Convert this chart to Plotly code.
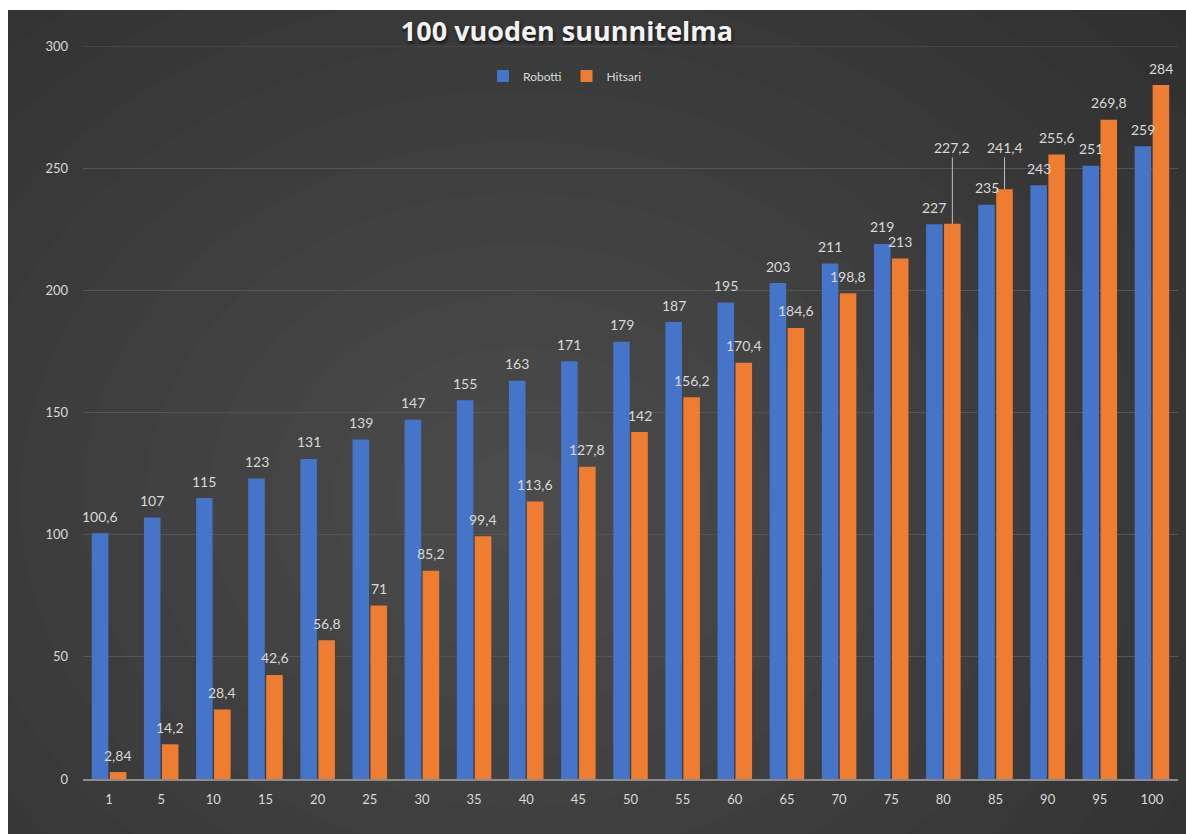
import plotly.graph_objects as go

categories = ["1", "5", "10", "15", "20", "25", "30", "35", "40", "45", "50",
              "55", "60", "65", "70", "75", "80", "85", "90", "95", "100"]
robotti = [100.6, 107, 115, 123, 131, 139, 147, 155, 163, 171, 179,
           187, 195, 203, 211, 219, 227, 235, 243, 251, 259]
hitsari = [2.84, 14.2, 28.4, 42.6, 56.8, 71, 85.2, 99.4, 113.6, 127.8, 142,
           156.2, 170.4, 184.6, 198.8, 213, 227.2, 241.4, 255.6, 269.8, 284]
# labels lifted with a leader line (category -> label height in data units)
lifted = {"80": 258.5, "85": 258.5}

W, H = 1186, 834
L, R, T, B = 83, 8, 46, 55
PW, PH = W - L - R, H - T - B

def px2x(p):
    return (p - L) / PW

def py2y(p):
    return (H - B - p) / PH

def fmt(v):
    s = ("%g" % v).replace(".", ",")
    return s

FONT = "Lato, 'Open Sans', sans-serif"
LBL = "#d9d9d9"
LSIZE = 14

fig = go.Figure()
fig.add_bar(name="Robotti", x=categories, y=robotti,
            marker=dict(color="#4674C8", line=dict(width=0)))
fig.add_bar(name="Hitsari", x=categories, y=hitsari,
            marker=dict(color="#EE7D32", line=dict(width=0)))

# background with radial-like gradient
shapes = [dict(type="rect", xref="paper", yref="paper", layer="below",
               x0=px2x(8), x1=px2x(W + 2), y0=py2y(H + 2), y1=py2y(10),
               fillcolor="#2b2b2b", line=dict(width=0))]
cx, cy = 520, 500
n = 16
for i in range(n):
    f = 1 - i / n
    rx, ry = 1000 * f, 820 * f
    shapes.append(dict(type="circle", xref="paper", yref="paper", layer="below",
                       x0=px2x(cx - rx), x1=px2x(cx + rx),
                       y0=py2y(cy + ry), y1=py2y(cy - ry),
                       fillcolor="rgba(255,255,255,0.012)", line=dict(width=0)))
# top gridline at 300
shapes.append(dict(type="line", xref="paper", yref="y", x0=0, x1=1, y0=300, y1=300,
                   layer="below", line=dict(color="#555555", width=1)))

annotations = []
for i, v in enumerate(robotti):
    annotations.append(dict(x=i, y=v, text=fmt(v), showarrow=False,
                            xshift=-9, yshift=17, font=dict(color=LBL, size=LSIZE, family=FONT)))
for i, (cat, v) in enumerate(zip(categories, hitsari)):
    if cat in lifted:
        annotations.append(dict(x=i, y=v, axref="x", ax=i, ayref="y", ay=lifted[cat], text=fmt(v),
                                showarrow=True, arrowhead=0, arrowwidth=1, arrowcolor="#bfbfbf",
                                xshift=9, standoff=0, startstandoff=0,
                                font=dict(color=LBL, size=LSIZE, family=FONT)))
    else:
        annotations.append(dict(x=i, y=v, text=fmt(v), showarrow=False,
                                xshift=9, yshift=17, font=dict(color=LBL, size=LSIZE, family=FONT)))

fig.update_layout(
    width=W, height=H,
    margin=dict(l=L, r=R, t=T, b=B),
    paper_bgcolor="white",
    plot_bgcolor="rgba(0,0,0,0)",
    barmode="group", bargap=0.31, bargroupgap=0.08,
    shapes=shapes,
    annotations=annotations,
    title=dict(text="<b>100 vuoden suunnitelma</b>", x=567 / W, xref="container",
               y=1 - 32 / H, yref="container", xanchor="center", yanchor="middle",
               font=dict(family="'Open Sans', Lato, sans-serif", size=27, color="#f2f2f2",
                         shadow="1px 2px 3px #111")),
    legend=dict(orientation="h", x=px2x(565), y=py2y(76), xanchor="center", yanchor="middle",
                font=dict(family=FONT, size=12, color=LBL), bgcolor="rgba(0,0,0,0)",
                traceorder="normal"),
    font=dict(family=FONT, color=LBL),
)
fig.update_yaxes(range=[0, 300], dtick=50, showgrid=True, gridcolor="#555555", gridwidth=1,
                 zeroline=False, showline=False, tickfont=dict(size=13, color=LBL, family=FONT),
                 ticklabelstandoff=14, fixedrange=True)
fig.update_xaxes(showline=True, linecolor="#8c8c8c", linewidth=1.5, showgrid=False,
                 tickfont=dict(size=13, color=LBL, family=FONT), ticks="",
                 ticklabelstandoff=8, type="category", range=[-0.5, len(categories) - 0.5])

fig.write_html("out.html")
